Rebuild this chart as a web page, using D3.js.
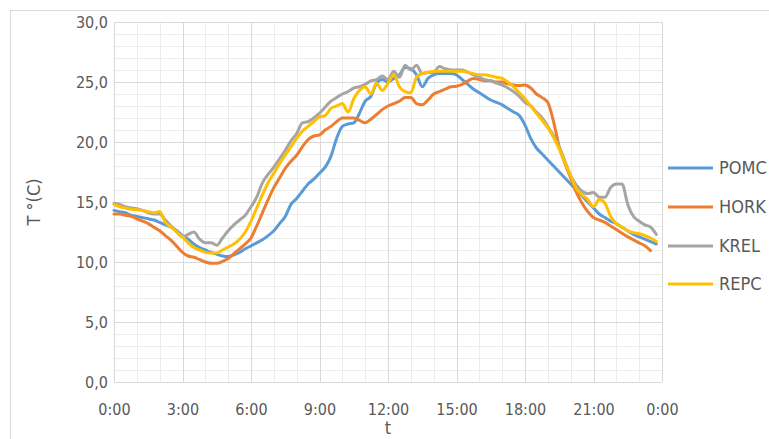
<!DOCTYPE html>
<html>
<head>
<meta charset="utf-8">
<script src="https://cdn.jsdelivr.net/npm/d3@7"></script>
<style>
  html, body { margin: 0; padding: 0; background: #fff; }
  svg { display: block; }
  text { font-family: "Liberation Sans Narrow", "DejaVu Sans Condensed", "Liberation Sans", sans-serif; fill: #595959; }
</style>
</head>
<body>
<svg id="chart" width="769" height="439"></svg>
<script>
// Time of day in hours, every 15 minutes
const hours = d3.range(0, 24, 0.25);

const seriesNames = ["POMC", "HORK", "KREL", "REPC"];
const seriesColors = ["#5B9BD5", "#ED7D31", "#A5A5A5", "#FFC000"];

const pomc = [
  14.3, 14.2, 14.1, 13.9, 13.8, 13.7, 13.6, 13.5, 13.3, 13.1, 12.9, 12.6,
  12.2, 11.9, 11.5, 11.2, 11.0, 10.8, 10.65, 10.5, 10.45, 10.6, 10.8, 11.1,
  11.35, 11.6, 11.85, 12.2, 12.6, 13.2, 13.8, 14.8, 15.3, 15.9, 16.5, 16.9,
  17.4, 17.9, 18.8, 20.3, 21.3, 21.5, 21.6, 22.4, 23.4, 23.8, 24.9, 25.2,
  25.0, 25.3, 25.6, 26.2, 26.1, 25.6, 24.6, 25.3, 25.6, 25.7, 25.7, 25.7,
  25.6, 25.2, 24.8, 24.4, 24.1, 23.8, 23.5, 23.3, 23.1, 22.8, 22.5, 22.2,
  21.4, 20.3, 19.5, 19.0, 18.5, 18.0, 17.5, 17.0, 16.5, 16.0, 15.5, 15.0,
  14.5, 14.0, 13.7, 13.4, 13.2, 12.9, 12.6, 12.3, 12.1, 11.9, 11.7, 11.5
];

const hork = [
  14.0, 14.0, 13.9, 13.8, 13.6, 13.4, 13.2, 12.9, 12.6, 12.2, 11.8, 11.3,
  10.8, 10.5, 10.4, 10.2, 10.0, 9.9, 9.9, 10.05, 10.3, 10.7, 11.1, 11.5,
  12.0, 13.0, 14.1, 15.2, 16.2, 17.0, 17.8, 18.4, 18.9, 19.6, 20.2, 20.5,
  20.6, 21.0, 21.3, 21.7, 22.0, 22.0, 22.0, 21.8, 21.6, 21.9, 22.3, 22.7,
  23.0, 23.2, 23.4, 23.7, 23.7, 23.2, 23.1, 23.5, 24.0, 24.2, 24.4, 24.6,
  24.65, 24.8, 25.1, 25.3, 25.2, 25.1, 25.1, 25.0, 25.0, 24.85, 24.75, 24.7,
  24.75, 24.5, 24.0, 23.7, 23.3, 21.7, 19.6, 18.2, 17.0, 15.8, 14.9, 14.2,
  13.7, 13.5, 13.3, 13.0, 12.7, 12.4, 12.1, 11.85, 11.6, 11.35, 10.95, null
];

const krel = [
  14.9, 14.8, 14.6, 14.5, 14.45, 14.3, 14.1, 14.0, 14.0, 13.5, 13.0, 12.5,
  12.1, 12.3, 12.5, 11.9, 11.6, 11.6, 11.4, 12.0, 12.6, 13.1, 13.5, 13.9,
  14.6, 15.4, 16.6, 17.3, 17.9, 18.6, 19.3, 20.1, 20.7, 21.6, 21.7, 22.0,
  22.4, 22.9, 23.4, 23.7, 24.0, 24.2, 24.5, 24.6, 24.8, 25.1, 25.2, 25.5,
  25.2, 25.9, 25.4, 26.4, 26.0, 26.4, 25.7, 25.8, 25.8, 26.3, 26.1, 26.0,
  26.0, 26.0, 25.8, 25.6, 25.4, 25.2, 25.1, 24.9, 24.75, 24.5, 24.2, 23.8,
  23.3, 23.0, 22.5, 22.0, 21.3, 20.5, 19.6, 18.4, 17.2, 16.4, 15.9, 15.7,
  15.8, 15.4, 15.4, 16.2, 16.5, 16.5, 14.8, 13.8, 13.4, 13.1, 12.9, 12.3
];

const repc = [
  14.8, 14.6, 14.5, 14.4, 14.35, 14.3, 14.2, 14.1, 14.2, 13.3, 12.9, 12.5,
  12.1, 11.6, 11.2, 11.0, 10.8, 10.75, 10.75, 11.0, 11.25, 11.5, 11.9, 12.5,
  13.4, 14.5, 15.6, 16.6, 17.4, 18.2, 18.9, 19.6, 20.3, 20.9, 21.3, 21.7,
  22.1, 22.2, 22.8, 23.0, 23.2, 22.5, 23.6, 24.3, 24.6, 24.0, 24.9, 24.3,
  24.9, 25.6, 24.6, 24.2, 24.1, 25.4, 25.7, 25.8, 25.9, 25.9, 25.9, 25.9,
  25.9, 25.9, 25.8, 25.7, 25.6, 25.6, 25.5, 25.4, 25.3, 25.0, 24.6, 24.1,
  23.6, 23.0, 22.4, 21.8, 21.2, 20.4, 19.4, 18.3, 17.2, 16.1, 15.6, 15.2,
  14.6, 15.2, 14.9, 13.8, 13.2, 12.9, 12.6, 12.45, 12.35, 12.2, 12.0, 11.7
];

const seriesValues = [pomc, hork, krel, repc];

const xTicks = d3.range(0, 25, 3);
const yTicks = d3.range(0, 31, 5);

const svg = d3.select("#chart");

// chart area frame
svg.append("rect")
  .attr("x", 10.5).attr("y", 10.5)
  .attr("width", 780).attr("height", 440)
  .attr("fill", "#fff")
  .attr("stroke", "#D9D9D9").attr("stroke-width", 1);

const x = d3.scaleLinear().domain([0, 24]).range([114, 662]);
const y = d3.scaleLinear().domain([0, 30]).range([382, 22]);

// minor grid: every hour and every degree
const grid = svg.append("g");
grid.selectAll("line.vmin").data(d3.range(0, 25, 1)).join("line")
  .attr("x1", d => Math.round(x(d)) + 0.5).attr("x2", d => Math.round(x(d)) + 0.5)
  .attr("y1", y(30)).attr("y2", y(0))
  .attr("stroke", "#ECECEC").attr("stroke-width", 1);
grid.selectAll("line.hmin").data(d3.range(0, 31, 1)).join("line")
  .attr("y1", d => Math.round(y(d)) + 0.5).attr("y2", d => Math.round(y(d)) + 0.5)
  .attr("x1", x(0)).attr("x2", x(24))
  .attr("stroke", "#ECECEC").attr("stroke-width", 1);
// major grid
grid.selectAll("line.vmaj").data(xTicks).join("line")
  .attr("x1", d => Math.round(x(d)) + 0.5).attr("x2", d => Math.round(x(d)) + 0.5)
  .attr("y1", y(30)).attr("y2", y(0))
  .attr("stroke", "#D9D9D9").attr("stroke-width", 1);
grid.selectAll("line.hmaj").data(yTicks).join("line")
  .attr("y1", d => Math.round(y(d)) + 0.5).attr("y2", d => Math.round(y(d)) + 0.5)
  .attr("x1", x(0)).attr("x2", x(24))
  .attr("stroke", "#D9D9D9").attr("stroke-width", 1);

// axes
const xAxis = d3.axisBottom(x).tickValues(xTicks).tickSize(0).tickPadding(0)
  .tickFormat(h => `${h % 24}:00`);
const gx = svg.append("g").attr("transform", `translate(0, ${y(0) + 27})`).call(xAxis);
gx.select(".domain").remove();
gx.selectAll("text").attr("font-size", 16).attr("dy", "0.35em").style("fill", "#595959");

const yAxis = d3.axisLeft(y).tickValues(yTicks).tickSize(0).tickPadding(0)
  .tickFormat(v => v.toFixed(1).replace(".", ","));
const gy = svg.append("g").attr("transform", `translate(${x(0) - 6}, 0)`).call(yAxis);
gy.select(".domain").remove();
gy.selectAll("text").attr("font-size", 16).style("fill", "#595959");
svg.selectAll("g").attr("font-family", null);

// axis titles
svg.append("text")
  .attr("x", (x(0) + x(24)) / 2).attr("y", 428)
  .attr("text-anchor", "middle").attr("dy", "0.35em")
  .attr("font-size", 18).text("t");
svg.append("text")
  .attr("transform", `translate(34, ${y(15)}) rotate(-90)`)
  .attr("text-anchor", "middle").attr("dy", "0.35em")
  .attr("font-size", 18).text("T °(C)");

// series lines
const line = d3.line()
  .defined(d => d.v !== null)
  .x(d => x(d.h)).y(d => y(d.v))
  .curve(d3.curveMonotoneX);

seriesValues.forEach((vals, i) => {
  const pts = hours.map((h, k) => ({ h, v: vals[k] }));
  svg.append("path")
    .datum(pts)
    .attr("fill", "none")
    .attr("stroke", seriesColors[i])
    .attr("stroke-width", 3)
    .attr("stroke-linejoin", "round")
    .attr("stroke-linecap", "round")
    .attr("d", line);
});

// legend
const legendY = [168, 207, 246, 284];
const legend = svg.append("g");
seriesNames.forEach((name, i) => {
  legend.append("line")
    .attr("x1", 668).attr("x2", 713)
    .attr("y1", legendY[i]).attr("y2", legendY[i])
    .attr("stroke", seriesColors[i]).attr("stroke-width", 3);
  legend.append("text")
    .attr("x", 719).attr("y", legendY[i])
    .attr("dy", "0.35em").attr("font-size", 18)
    .text(name);
});
</script>
</body>
</html>
